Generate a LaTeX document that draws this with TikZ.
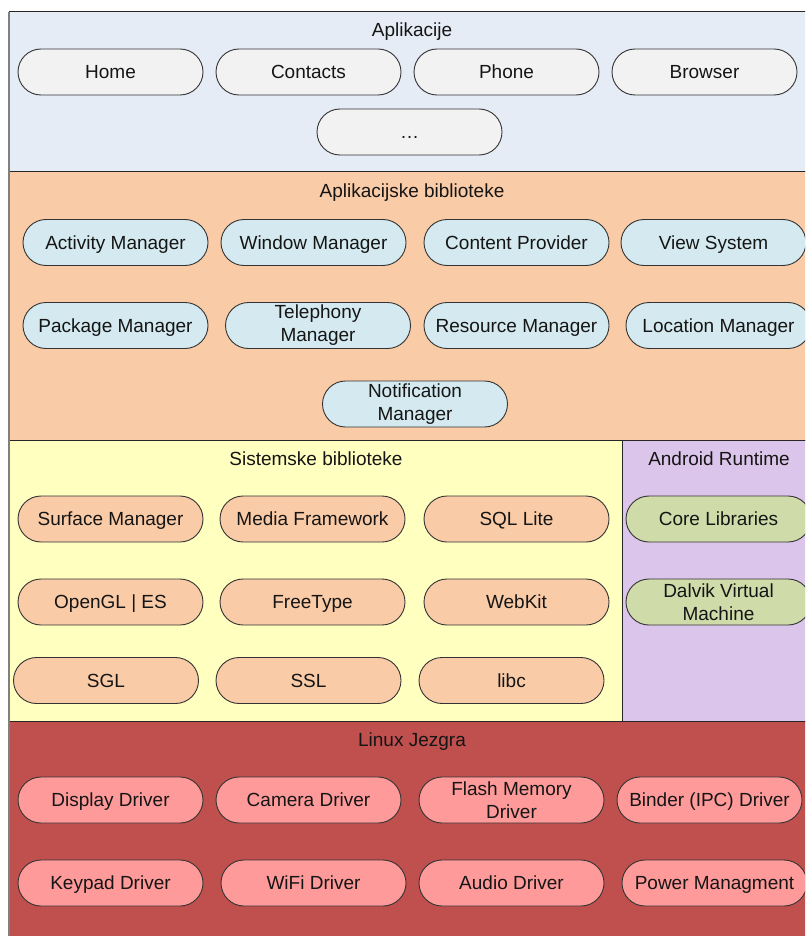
\documentclass[tikz,border=0pt]{standalone}
\usepackage{fontspec}
\setmainfont{Liberation Sans}
\definecolor{appbg}{HTML}{E6ECF6}
\definecolor{apppill}{HTML}{F2F2F2}
\definecolor{libbg}{HTML}{FACBA7}
\definecolor{bluepill}{HTML}{D4EAF0}
\definecolor{sysbg}{HTML}{FFFFC0}
\definecolor{rtbg}{HTML}{DCC5EA}
\definecolor{greenpill}{HTML}{D0DBAA}
\definecolor{linbg}{HTML}{C0504D}
\definecolor{redpill}{HTML}{FF9A9A}
\definecolor{txt}{HTML}{151515}
\begin{document}
\begin{tikzpicture}[x=1pt,y=-1pt,
  pill/.style={draw=black!80, line width=0.9pt, rounded corners=23pt, minimum width=185pt,
    minimum height=46pt, inner sep=0pt, align=center, text=txt,
    text height=15pt, text depth=1.4pt,
    font=\fontsize{19}{23}\selectfont},
  twoline/.style={text height=, text depth=},
  layer/.style={draw=black!85, line width=1pt},
  title/.style={text=txt, font=\fontsize{19}{23}\selectfont, inner sep=0pt,
    text height=15pt, text depth=1.4pt}]
\useasboundingbox (0,0) rectangle (805,936);
\clip (0,0) rectangle (805,936);
\fill[white] (0,0) rectangle (805,936);
% layers
\filldraw[layer, fill=appbg] (9,12) rectangle (830,172);
\filldraw[layer, fill=libbg] (9,172) rectangle (830,440);
\filldraw[layer, fill=sysbg] (9,440) rectangle (622,721);
\filldraw[layer, fill=rtbg] (622,440) rectangle (830,721);
\filldraw[layer, fill=linbg] (9,721) rectangle (830,960);
\draw[black!50, line width=2pt] (9,12) -- (9,960);
% titles
\node[title] (t1) at (412,30) {Aplikacije};
\node[title] (t2) at (412,191) {Aplikacijske biblioteke};
\node[title] (t3) at (316,459) {Sistemske biblioteke};
\node[title] (t4) at (719,459) {Android Runtime};
\node[title] (t5) at (412,740) {Linux Jezgra};
% applications
\node[pill, fill=apppill] (home) at (110.5,72) {Home};
\node[pill, fill=apppill] (contacts) at (308.5,72) {Contacts};
\node[pill, fill=apppill] (phone) at (506.5,72) {Phone};
\node[pill, fill=apppill] (browser) at (704.5,72) {Browser};
\node[pill, fill=apppill] (more) at (409.5,132) {\ldots};
% application framework
\node[pill, fill=bluepill] (activity) at (115.5,242.5) {Activity Manager};
\node[pill, fill=bluepill] (window) at (313.5,242.5) {Window Manager};
\node[pill, fill=bluepill] (content) at (516.5,242.5) {Content Provider};
\node[pill, fill=bluepill] (view) at (713.5,242.5) {View System};
\node[pill, fill=bluepill] (package) at (115.5,325.5) {Package Manager};
\node[pill, fill=bluepill, twoline] (telephony) at (318,325.5) {Telephony\\Manager};
\node[pill, fill=bluepill] (resource) at (516.5,325.5) {Resource Manager};
\node[pill, fill=bluepill] (location) at (718.5,325.5) {Location Manager};
\node[pill, fill=bluepill, twoline] (notification) at (415,404) {Notification\\Manager};
% system libraries
\node[pill, fill=libbg] (surface) at (110.5,519) {Surface Manager};
\node[pill, fill=libbg] (media) at (312.5,519) {Media Framework};
\node[pill, fill=libbg] (sqlite) at (516.5,519) {SQL Lite};
\node[pill, fill=libbg] (opengl) at (110.5,602) {OpenGL | ES};
\node[pill, fill=libbg] (freetype) at (312.5,602) {FreeType};
\node[pill, fill=libbg] (webkit) at (516.5,602) {WebKit};
\node[pill, fill=libbg] (sgl) at (106,680.5) {SGL};
\node[pill, fill=libbg] (ssl) at (308.5,680.5) {SSL};
\node[pill, fill=libbg] (libc) at (511.5,680.5) {libc};
% runtime
\node[pill, fill=greenpill] (core) at (718.5,519) {Core Libraries};
\node[pill, fill=greenpill, twoline] (dalvik) at (718.5,602) {Dalvik Virtual\\Machine};
% kernel
\node[pill, fill=redpill] (display) at (110.5,800) {Display Driver};
\node[pill, fill=redpill] (camera) at (308.5,800) {Camera Driver};
\node[pill, fill=redpill, twoline] (flash) at (511.5,800) {Flash Memory\\Driver};
\node[pill, fill=redpill] (binder) at (709.5,800) {Binder (IPC) Driver};
\node[pill, fill=redpill] (keypad) at (110.5,883) {Keypad Driver};
\node[pill, fill=redpill] (wifi) at (313.5,883) {WiFi Driver};
\node[pill, fill=redpill] (audio) at (511.5,883) {Audio Driver};
\node[pill, fill=redpill] (power) at (714.5,883) {Power Managment};
\end{tikzpicture}
\end{document}
